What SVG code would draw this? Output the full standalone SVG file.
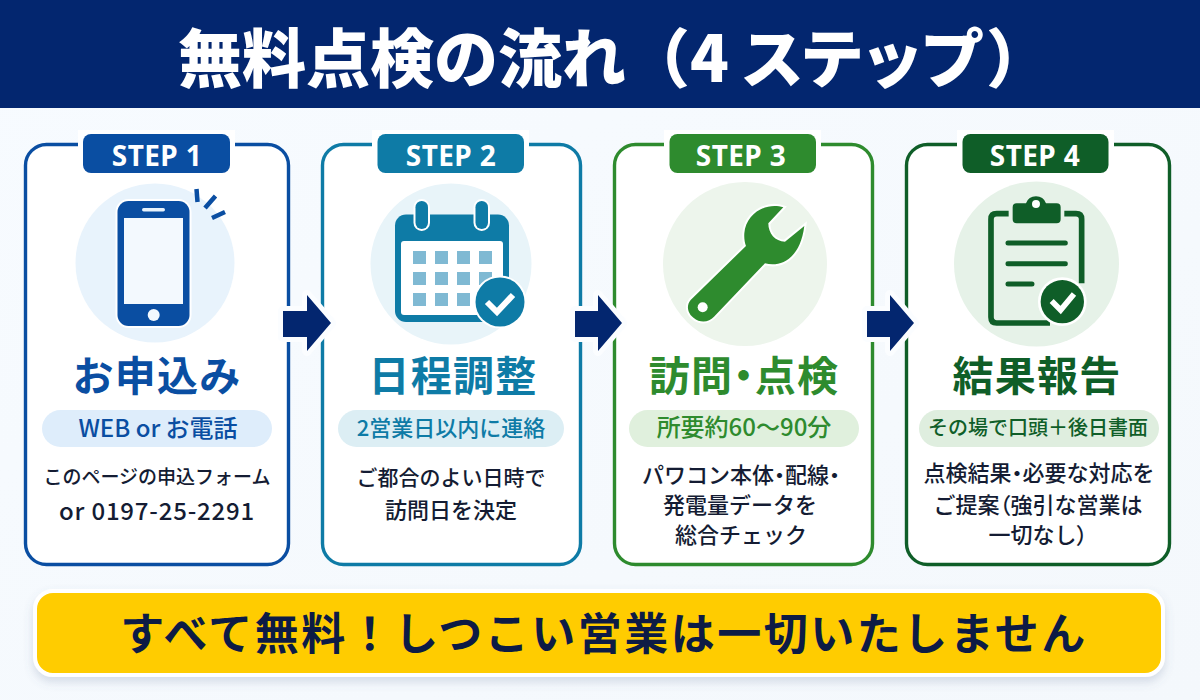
<svg xmlns="http://www.w3.org/2000/svg" width="1200" height="700" viewBox="0 0 1200 700">
<defs>
<linearGradient id="bg" x1="0" y1="0" x2="1" y2="1"><stop offset="0" stop-color="#f7fbff"/><stop offset="1" stop-color="#f4f8fc"/></linearGradient>
<filter id="sh" x="-5%" y="-20%" width="110%" height="150%"><feDropShadow dx="0" dy="5" stdDeviation="5" flood-color="#5a6f96" flood-opacity="0.22"/></filter>
</defs>
<style>
text{font-family:"Noto Sans CJK JP","Noto Sans",sans-serif;text-anchor:middle}
.card{fill:#fff;stroke-width:3.4}
.step{font-family:"Noto Sans","Noto Sans CJK JP",sans-serif;font-size:28px;font-weight:700;fill:#fff;letter-spacing:.4px}
.head{font-size:41px;font-weight:700;letter-spacing:1.2px}
.pill{font-weight:500}
.body{font-size:22px;font-weight:500;fill:#141c33}
.halo{stroke:#fff;stroke-width:4;paint-order:stroke}
.p{font-feature-settings:"palt"}
.c1{fill:#0a4ea2}.c2{fill:#0e7ba6}.c3{fill:#2e8b2e}.c4{fill:#0f5e28}
.s1{stroke:#0a4ea2}.s2{stroke:#0e7ba6}.s3{stroke:#2e8b2e}.s4{stroke:#0f5e28}
</style>
<rect width="1200" height="700" fill="url(#bg)"/>
<g id="title"><rect width="1200" height="108" fill="#03266f"/>
<text x="178" y="82" font-size="64" font-weight="900" fill="#fff" style="text-anchor:start">無料点検の流れ（4<tspan dx="11" letter-spacing="-4">ステップ</tspan><tspan dx="6">）</tspan></text></g>

<g id="step1">
<rect class="card s1" x="25.5" y="144.5" width="263" height="420" rx="21"/>
<rect x="78" y="130" width="157" height="46" fill="#fff"/>
<rect class="c1" x="83" y="134" width="147" height="39" rx="8"/>
<text class="step" x="157" y="166">STEP 1</text>
<circle cx="155" cy="263" r="79.500" fill="#e8f3fc"/>
<rect x="117.500" y="201" width="72" height="125" rx="11" class="c1 halo"/>
<rect x="124" y="218" width="59" height="86" fill="#f3f9fe"/>
<rect x="142" y="208" width="23" height="3.500" rx="1.700" fill="#e8f3fc"/>
<circle cx="153.700" cy="315" r="6" fill="#f3f9fe"/>
<path d="M196.500 189L197.500 202M215.500 196L205 208M225 212L212 218" fill="none" stroke-width="4.500" class="s1"/>
<text class="head c1" x="157" y="391">お申込み</text>
<rect x="42" y="410" width="230" height="37" rx="18.500" fill="#deedfb"/>
<text class="pill c1" x="158" y="437" font-size="24">WEB or お電話</text>
<text class="body" x="157" y="484" style="font-size:19px">このページの申込フォーム</text>
<text class="body" x="157" y="520" style="font-size:24px;letter-spacing:.8px">or 0197-25-2291</text>
</g>

<g id="step2">
<rect class="card s2" x="322.500" y="144.500" width="258" height="420" rx="21"/>
<rect x="372" y="130" width="157" height="46" fill="#fff"/>
<rect class="c2" x="377.500" y="134" width="146.500" height="39" rx="8"/>
<text class="step" x="451" y="166">STEP 2</text>
<circle cx="451" cy="264" r="80.500" fill="#e8f4f9"/>
<rect x="395" y="214.500" width="114" height="107.500" rx="11" class="c2"/>
<rect x="401" y="241" width="102" height="74" rx="3" fill="#fff"/>
<g fill="#7fb9d3">
<rect x="413" y="251" width="13" height="13"/><rect x="435" y="251" width="13" height="13"/><rect x="457" y="251" width="13" height="13"/><rect x="479" y="251" width="13" height="13"/>
<rect x="413" y="272" width="13" height="13"/><rect x="435" y="272" width="13" height="13"/><rect x="457" y="272" width="13" height="13"/><rect x="479" y="272" width="13" height="13"/>
<rect x="413" y="293" width="13" height="13"/><rect x="435" y="293" width="13" height="13"/><rect x="457" y="293" width="13" height="13"/>
</g>
<rect x="415.500" y="201" width="12.500" height="28" rx="6.200" class="c2 halo"/>
<rect x="475.500" y="201" width="12.500" height="28" rx="6.200" class="c2 halo"/>
<circle cx="500" cy="302" r="24.500" class="c2 halo"/>
<path d="M487 302L497 312L513 295" fill="none" stroke="#fff" stroke-width="6"/>
<text class="head c2" x="453" y="391">日程調整</text>
<rect x="338" y="410" width="226" height="37" rx="18.500" fill="#dceef4"/>
<text class="pill c2" x="451" y="436" font-size="22">2営業日以内に連絡</text>
<text class="body" x="451" y="485" style="font-size:21px">ご都合のよい日時で</text>
<text class="body" x="451" y="518" style="font-size:22px">訪問日を決定</text>
</g>

<g id="step3">
<rect class="card s3" x="614.500" y="144.500" width="258" height="420" rx="21"/>
<rect x="664" y="130" width="157" height="46" fill="#fff"/>
<rect class="c3" x="669.500" y="134" width="146.500" height="39" rx="8"/>
<text class="step" x="741" y="166">STEP 3</text>
<circle cx="745" cy="264" r="82" fill="#edf5ec"/>
<g transform="translate(610,120) scale(.3333)">
<path d="M520 262C470 245 408 280 403 340C402 355 404 368 408 378L242 540C225 560 235 590 265 602C285 608 300 602 312 590L465 430C510 442 570 420 583 318L525 365C495 365 475 340 475 310Z" class="c3" stroke="#fff" stroke-width="12" paint-order="stroke"/>
<circle cx="278" cy="562" r="15" fill="#fff"/>
</g>
<text class="head c3" x="744" y="391">訪問<tspan class="p">・</tspan>点検</text>
<rect x="629" y="410" width="230" height="37" rx="18.500" fill="#e0f0dd"/>
<text class="pill c3" x="744" y="436" font-size="24">所要約60〜90分</text>
<text class="body" x="741" y="483">パワコン本体<tspan class="p">・</tspan>配線<tspan class="p">・</tspan></text>
<text class="body" x="740" y="513">発電量データを</text>
<text class="body" x="741" y="543">総合チェック</text>
</g>

<g id="step4">
<rect class="card s4" x="906.500" y="144.500" width="263" height="420" rx="21"/>
<rect x="957" y="130" width="157" height="46" fill="#fff"/>
<rect class="c4" x="962.500" y="134" width="146" height="39" rx="8"/>
<text class="step" x="1035" y="166">STEP 4</text>
<circle cx="1036.500" cy="264" r="82.500" fill="#e6f2e8"/>
<g transform="translate(900,120) scale(.3333)">
<path d="M326 281H290Q273 281 273 298V592Q273 609 290 609H450M493 281H528Q545 281 545 298V490" fill="none" class="s4" stroke-width="17"/>
<path d="M350 250H378A32 32 0 0 1 438 250H470Q482 250 482 262V298Q482 310 470 310H350Q338 310 338 298V262Q338 250 350 250Z" class="c4"/>
<circle cx="408" cy="252" r="12" fill="#fff"/>
<path d="M324 369H496M324 431H496M324 492H396" fill="none" class="s4" stroke-width="15" stroke-linecap="round"/>
<circle cx="487" cy="545" r="65" class="c4" stroke="#fff" stroke-width="16" paint-order="stroke"/>
<path d="M455 543L482 570L522 522" fill="none" stroke="#fff" stroke-width="17"/>
</g>
<text class="head c4" x="1037" y="391">結果報告</text>
<rect x="919" y="410" width="240" height="37" rx="18.500" fill="#dfeedf"/>
<text class="pill c4" x="1038" y="435" font-size="20">その場で口頭＋後日書面</text>
<text class="body" x="1039" y="481">点検結果<tspan class="p">・</tspan>必要な対応を</text>
<text class="body" x="1038" y="513">ご提案<tspan class="p">（</tspan>強引な営業は</text>
<text class="body" x="1038" y="543">一切なし<tspan class="p">）</tspan></text>
</g>

<g id="connectors" fill="#03266f" stroke="#fbfdff" stroke-width="10" stroke-linejoin="round" paint-order="stroke">
<polygon points="283,311 307,311 307,295 331,323 307,351 307,337 283,337"/>
<polygon points="575,311 598,311 598,295 622,323 598,351 598,337 575,337"/>
<polygon points="867,311 890,311 890,295 914,323 890,351 890,337 867,337"/>
</g>

<g id="footer">
<rect x="35" y="591" width="1128" height="84" rx="18" fill="#ffcc00" stroke="#fff" stroke-width="4" filter="url(#sh)"/>
<text x="604" y="650" font-size="44" font-weight="700" fill="#0d1b45" letter-spacing="2.500">すべて無料！しつこい営業は一切いたしません</text>
</g>
</svg>
